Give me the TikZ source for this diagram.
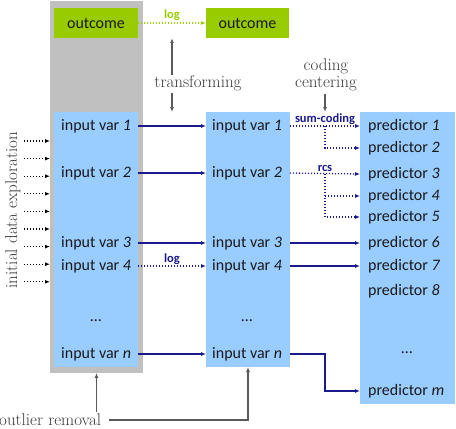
\documentclass[tikz,border=0pt]{standalone}
\usepackage{fontspec}
\newfontfamily\boxfont{Carlito}
\usetikzlibrary{arrows.meta}
\definecolor{grn}{HTML}{99CC00}
\definecolor{lblue}{HTML}{99CCFF}
\definecolor{gbar}{HTML}{C0C0C0}
\definecolor{navy}{HTML}{1A1A8C}
\definecolor{ann}{HTML}{5A5A5A}
\definecolor{anntext}{HTML}{3A3A3A}
\begin{document}
\begin{tikzpicture}[x=1pt,y=-1pt,
  panel/.style={draw=none,inner sep=0,outer sep=0,anchor=north west},
  lbl/.style={font=\boxfont\fontsize{16}{18}\selectfont,inner sep=0,anchor=west,text=black!90},
  dotsl/.style={font=\boxfont\fontsize{16}{18}\selectfont,inner sep=0,text=black!90},
  note/.style={font=\fontsize{17}{16.5}\selectfont,text=anntext,inner sep=0},
  tag/.style={font=\boxfont\bfseries\fontsize{12.5}{13}\selectfont,inner sep=0.8pt},
  tip/.style={-{Latex[length=5pt,width=4pt]}},
  solidarr/.style={tip,draw=navy,line width=1.5pt},
  dotarr/.style={tip,draw=navy,line width=1.3pt,dash pattern=on 1.2pt off 1.8pt},
  annarr/.style={tip,draw=ann,line width=1.1pt},
]
\useasboundingbox (0,0) rectangle (456,429);

% gray outlier-removal band
\node[panel,fill=gbar,minimum width=93,minimum height=372] (gray) at (50,1) {};

% outcome boxes
\node[fill=grn,minimum width=84,minimum height=30,inner sep=0,font=\boxfont\fontsize{16}{18}\selectfont,text=black!90] (og1) at (96,23) {outcome};
\node[fill=grn,minimum width=83,minimum height=30,inner sep=0,font=\boxfont\fontsize{16}{18}\selectfont,text=black!90] (og2) at (247.5,23) {outcome};

% variable panels
\node[panel,fill=lblue,minimum width=84,minimum height=255] (lbox) at (54,112) {};
\node[panel,fill=lblue,minimum width=84,minimum height=255] (mbox) at (206,112) {};
\node[panel,fill=lblue,minimum width=95,minimum height=292] (pbox) at (360,112) {};

% raw inputs
\node[lbl] (l1) at (61,126) {input var \textit{1}};
\node[lbl] (l2) at (61,173) {input var \textit{2}};
\node[lbl] (l3) at (61,243) {input var \textit{3}};
\node[lbl] (l4) at (61,266) {input var \textit{4}};
\node[dotsl] (ld) at (96,321) {…};
\node[lbl] (ln) at (61,354) {input var \textit{n}};

% transformed inputs
\node[lbl] (m1) at (212,126) {input var \textit{1}};
\node[lbl] (m2) at (212,173) {input var \textit{2}};
\node[lbl] (m3) at (212,243) {input var \textit{3}};
\node[lbl] (m4) at (212,266) {input var \textit{4}};
\node[dotsl] (md) at (247,321) {…};
\node[lbl] (mn) at (212,354) {input var \textit{n}};

% predictors
\node[lbl] (p1) at (368,126) {predictor \textit{1}};
\node[lbl] (p2) at (368,148) {predictor \textit{2}};
\node[lbl] (p3) at (368,174) {predictor \textit{3}};
\node[lbl] (p4) at (368,196) {predictor \textit{4}};
\node[lbl] (p5) at (368,217) {predictor \textit{5}};
\node[lbl] (p6) at (368,243) {predictor \textit{6}};
\node[lbl] (p7) at (368,266) {predictor \textit{7}};
\node[lbl] (p8) at (368,291) {predictor \textit{8}};
\node[dotsl] (pd) at (407,353) {…};
\node[lbl] (pm) at (368,391) {predictor \textit{m}};

% outcome transformation
\draw[tip,draw=grn,line width=1.3pt,dash pattern=on 1.2pt off 1.8pt] (og1.east) -- (og2.west)
  node[midway,above,tag,text=grn,yshift=1pt] {log};

% raw -> transformed
\draw[solidarr] (lbox.east |- l1) -- (mbox.west |- m1);
\draw[solidarr] (lbox.east |- l2) -- (mbox.west |- m2);
\draw[solidarr] (lbox.east |- l3) -- (mbox.west |- m3);
\draw[dotarr] (lbox.east |- l4) -- (mbox.west |- m4)
  node[midway,above,tag,text=navy] {log};
\draw[solidarr] (lbox.east |- ln) -- (mbox.west |- mn);

% transformed -> predictors
\draw[dotarr] (mbox.east |- m1) -- (pbox.west |- p1)
  coordinate[midway] (b1) node[midway,above,tag,text=navy] {sum-coding};
\draw[dotarr] (b1) |- (pbox.west |- p2);
\draw[dotarr] (mbox.east |- m2) -- (pbox.west |- p3)
  coordinate[midway] (b2) node[midway,above,tag,text=navy] {rcs};
\draw[dotarr] (b2) |- (pbox.west |- p5);
\draw[dotarr] (b2 |- p4) -- (pbox.west |- p4);
\draw[solidarr] (mbox.east |- m3) -- (pbox.west |- p6);
\draw[solidarr] (mbox.east |- m4) -- (pbox.west |- p7);
\draw[solidarr] (mbox.east |- mn) -- (b1 |- mn) |- (pbox.west |- pm);

% transforming annotation
\node[note] (tr) at (198,83) {transforming};
\coordinate (tu) at (172,75);
\coordinate (td) at (172,93);
\draw[annarr] (tu) -- (tu |- og1.south);
\draw[annarr] (td) -- (td |- mbox.north);

% coding / centering annotation
\node[note,align=center] (cc) at (326,75) {coding\\centering};
\draw[annarr] (b1 |- cc.south) ++(0,3) coordinate (ct) (ct) -- (ct |- mbox.north);

% initial data exploration
\node[note,rotate=90] (ide) at (13,210) {initial data exploration};
\foreach \i in {0,...,8} {
  \coordinate (e\i) at (24,{141+17.6*\i});
  \draw[tip,draw=black,line width=1.2pt,dash pattern=on 1.2pt off 1.8pt] (e\i) -- (e\i -| gray.west);
}

% outlier removal
\node[note,anchor=west] (orm) at (-1,420) {outlier removal};
\draw[annarr] (gray.south |- orm.north) ++(0,-2) coordinate (ou) (ou) -- (gray.south);
\draw[annarr] ([xshift=8pt]orm.east) -- (mbox.south |- orm.east) -- (mbox.south);
\end{tikzpicture}
\end{document}
